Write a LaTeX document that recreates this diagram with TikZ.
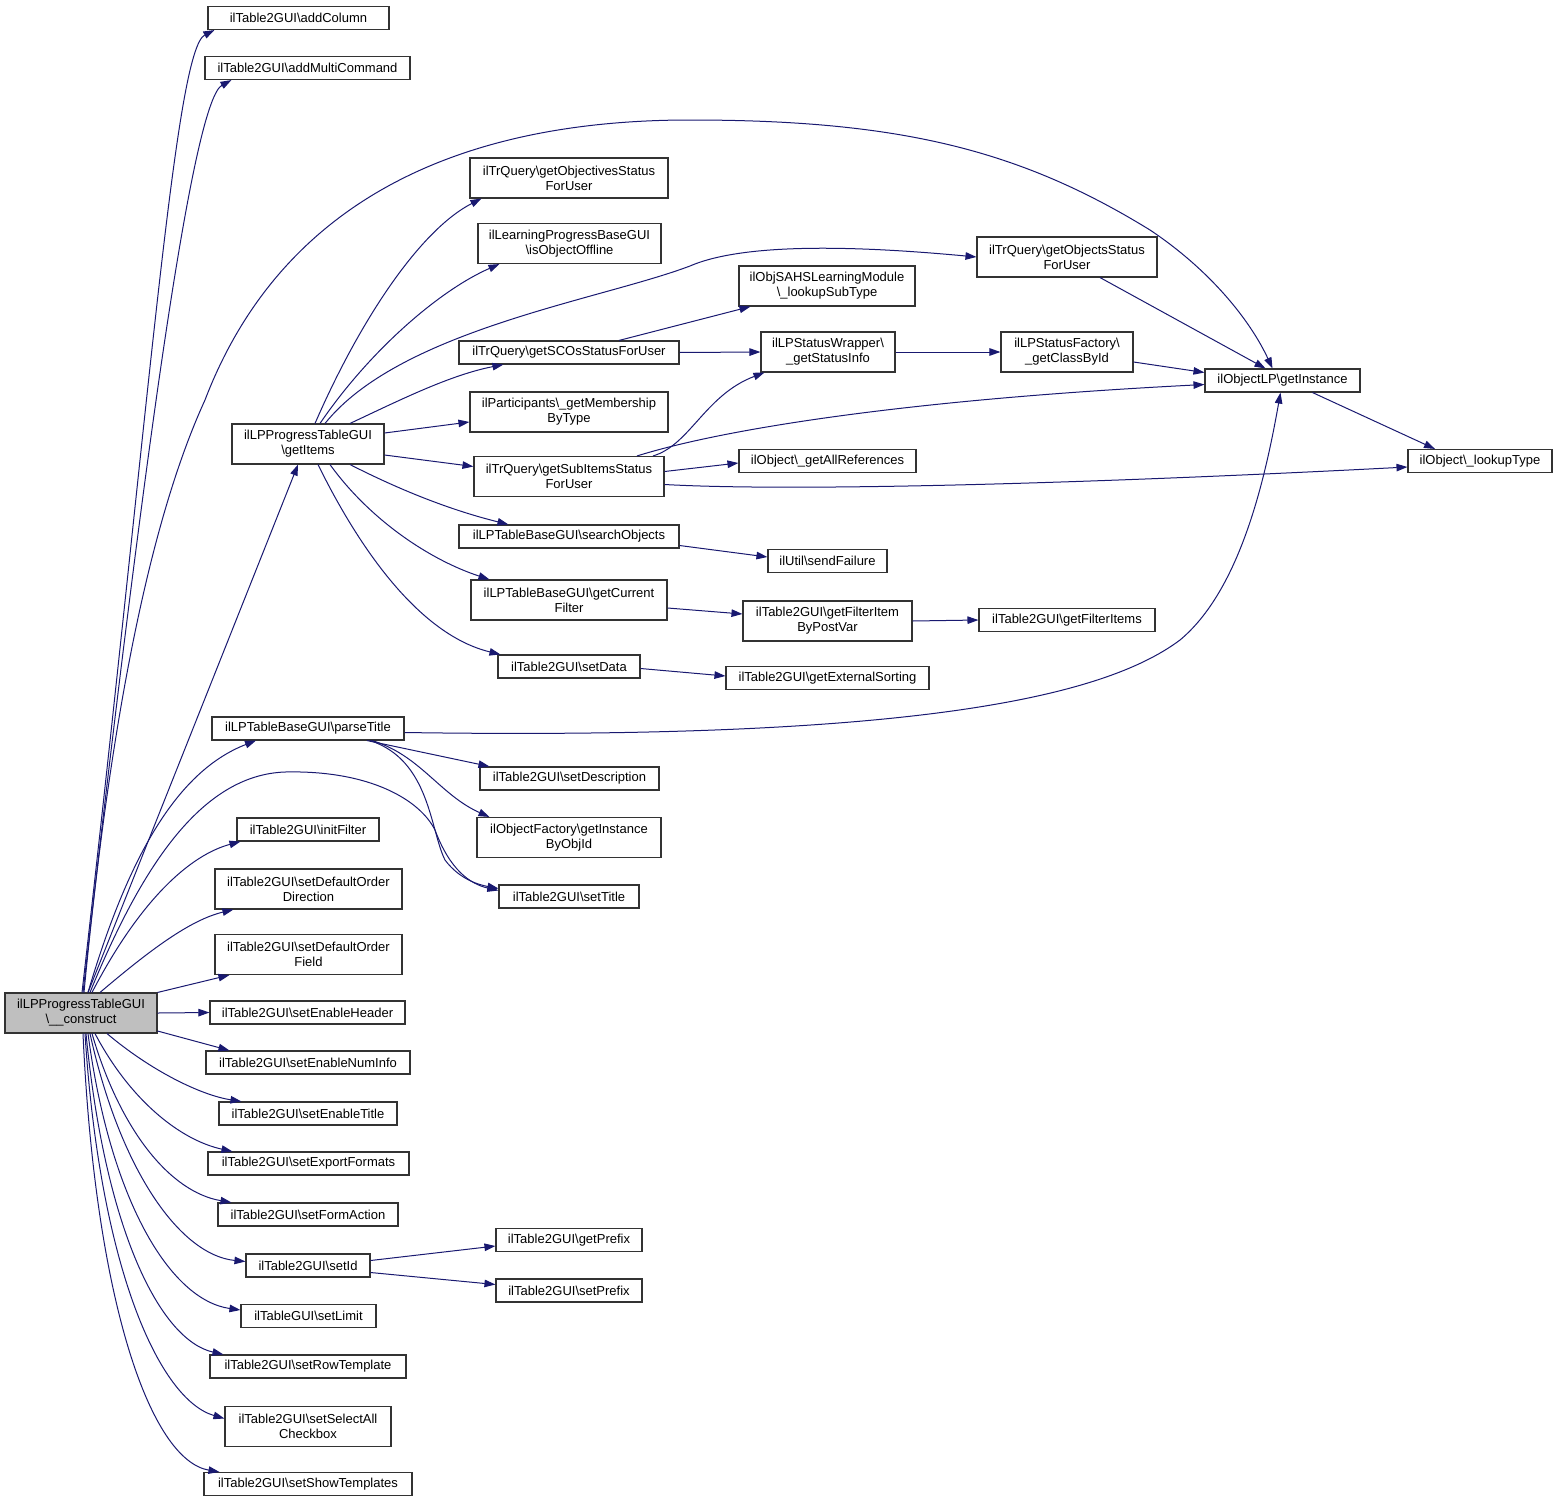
\documentclass[tikz,border=0pt]{standalone}
\usepackage{fontspec}
\setmainfont{Liberation Sans}
\usepackage{tikz}
\usetikzlibrary{arrows.meta}

\definecolor{callblue}{HTML}{191970}
\definecolor{mainfill}{HTML}{BFBFBF}
\newcommand{\bsl}{\textbackslash}

\tikzset{
  fn/.style={draw=black!80, line width=1.1pt, fill=white, align=center,
    font=\fontsize{13}{15}\selectfont, inner xsep=2pt, inner ysep=2pt,
    minimum height=23pt},
  fntwo/.style={fn, minimum height=40pt},
  call/.style={draw=callblue, line width=1pt,
    -{Triangle[length=11pt,width=7.5pt]}},
}

\begin{document}
\begin{tikzpicture}[x=1pt,y=-1pt]
        \useasboundingbox (0,0) rectangle (1557,1504);

        % the root
        \node [fntwo, fill=mainfill, minimum width=152pt] (construct) at (81,1013)
          {ilLPProgressTableGUI\\\bsl\_\_construct};

        % first column
        \node [fn, minimum width=181pt] (addColumn) at (298.5,18) {ilTable2GUI\bsl addColumn};
        \node [fn, minimum width=205pt] (addMultiCmd) at (307.5,68) {ilTable2GUI\bsl addMultiCommand};
        \node [fntwo, minimum width=152pt] (getItems) at (308,444) {ilLPProgressTableGUI\\\bsl getItems};
        \node [fn, minimum width=192pt] (parseTitle) at (308,728.5) {ilLPTableBaseGUI\bsl parseTitle};
        \node [fn, minimum width=142pt] (initFilter) at (308,829.5) {ilTable2GUI\bsl initFilter};
        \node [fntwo, minimum width=187pt] (orderDir) at (308.5,889) {ilTable2GUI\bsl setDefaultOrder\\Direction};
        \node [fntwo, minimum width=187pt] (orderField) at (308.5,954.5) {ilTable2GUI\bsl setDefaultOrder\\Field};
        \node [fn, minimum width=195pt] (enableHeader) at (307.5,1012.5) {ilTable2GUI\bsl setEnableHeader};
        \node [fn, minimum width=204pt] (enableNumInfo) at (308,1062.5) {ilTable2GUI\bsl setEnableNumInfo};
        \node [fn, minimum width=178pt] (enableTitle) at (308,1113.5) {ilTable2GUI\bsl setEnableTitle};
        \node [fn, minimum width=201pt] (exportFormats) at (308.5,1163.5) {ilTable2GUI\bsl setExportFormats};
        \node [fn, minimum width=180pt] (formAction) at (308,1214.5) {ilTable2GUI\bsl setFormAction};
        \node [fn, minimum width=124pt] (setId) at (308,1265.5) {ilTable2GUI\bsl setId};
        \node [fn, minimum width=135pt] (setLimit) at (308.5,1316) {ilTableGUI\bsl setLimit};
        \node [fn, minimum width=196pt] (rowTemplate) at (308,1366.5) {ilTable2GUI\bsl setRowTemplate};
        \node [fntwo, minimum width=166pt] (selectAll) at (308,1426.5) {ilTable2GUI\bsl setSelectAll\\Checkbox};
        \node [fn, minimum width=208pt] (showTemplates) at (308,1484) {ilTable2GUI\bsl setShowTemplates};

        % second column
        \node [fntwo, minimum width=198pt] (objectivesStatus) at (569,178) {ilTrQuery\bsl getObjectivesStatus\\ForUser};
        \node [fntwo, minimum width=183pt] (objOffline) at (569.5,243.5) {ilLearningProgressBaseGUI\\\bsl isObjectOffline};
        \node [fn, minimum width=220pt] (scosStatus) at (569,352.5) {ilTrQuery\bsl getSCOsStatusForUser};
        \node [fntwo, minimum width=198pt] (membership) at (569,412) {ilParticipants\bsl\_getMembership\\ByType};
        \node [fntwo, minimum width=190pt] (subItemsStatus) at (569,476.5) {ilTrQuery\bsl getSubItemsStatus\\ForUser};
        \node [fn, minimum width=220pt] (searchObjects) at (569,536.5) {ilLPTableBaseGUI\bsl searchObjects};
        \node [fntwo, minimum width=196pt] (currentFilter) at (569,600) {ilLPTableBaseGUI\bsl getCurrent\\Filter};
        \node [fn, minimum width=142pt] (setData) at (569,666.5) {ilTable2GUI\bsl setData};
        \node [fn, minimum width=179pt] (setDescription) at (569.5,778.5) {ilTable2GUI\bsl setDescription};
        \node [fntwo, minimum width=184pt] (instanceByObjId) at (569,837.5) {ilObjectFactory\bsl getInstance\\ByObjId};
        \node [fn, minimum width=140pt] (setTitle) at (569,896.5) {ilTable2GUI\bsl setTitle};
        \node [fn, minimum width=146pt] (getPrefix) at (569,1240) {ilTable2GUI\bsl getPrefix};
        \node [fn, minimum width=146pt] (setPrefix) at (569,1290.5) {ilTable2GUI\bsl setPrefix};

        % third column
        \node [fntwo, minimum width=176pt] (lookupSubType) at (827,286) {ilObjSAHSLearningModule\\\bsl\_lookupSubType};
        \node [fntwo, minimum width=134pt] (statusInfo) at (828,352) {ilLPStatusWrapper\bsl\\\_getStatusInfo};
        \node [fn, minimum width=177pt] (allReferences) at (827.5,461) {ilObject\bsl\_getAllReferences};
        \node [fn, minimum width=119pt] (sendFailure) at (827.5,561) {ilUtil\bsl sendFailure};
        \node [fntwo, minimum width=169pt] (filterItemByPostVar) at (827.5,621) {ilTable2GUI\bsl getFilterItem\\ByPostVar};
        \node [fn, minimum width=203pt] (externalSorting) at (827.5,678) {ilTable2GUI\bsl getExternalSorting};

        % fourth column
        \node [fntwo, minimum width=180pt] (objectsStatus) at (1067,257) {ilTrQuery\bsl getObjectsStatus\\ForUser};
        \node [fntwo, minimum width=132pt] (classById) at (1067,352) {ilLPStatusFactory\bsl\\\_getClassById};
        \node [fn, minimum width=176pt] (filterItems) at (1067,620) {ilTable2GUI\bsl getFilterItems};

        % last columns
        \node [fn, minimum width=155pt] (lpInstance) at (1282.5,380.5) {ilObjectLP\bsl getInstance};
        \node [fn, minimum width=144pt] (lookupType) at (1480,461) {ilObject\bsl\_lookupType};

        % calls of the root, upwards
        \draw [call] ([xshift=1pt]construct.north) .. controls (150,400) and (175,50)
          .. ([xshift=7pt]addColumn.south west);
        \draw [call] ([xshift=2pt]construct.north) .. controls (150,400) and (195,100)
          .. ([xshift=27pt]addMultiCmd.south west);
        \draw [call] ([xshift=3pt]construct.north) .. controls (110,720) and (150,520)
          .. (205,400) .. controls (270,230) and (420,120) .. (690,120)
          .. controls (900,120) and (1020,150) .. (1150,230)
          .. controls (1210,270) and (1250,320) .. ([xshift=-10pt]lpInstance.north);
        \draw [call] ([xshift=7pt]construct.north) -- ([xshift=-10pt]getItems.south);
        \draw [call] ([xshift=7pt]construct.north) .. controls (130,850) and (180,770)
          .. ([xshift=-52pt]parseTitle.south);
        \draw [call] ([xshift=9pt]construct.north) .. controls (140,870) and (200,775)
          .. (285,772) .. controls (370,770) and (420,800) .. (435,830)
          .. controls (450,870) and (470,884) .. ([yshift=6pt]setTitle.west);
        \draw [call] ([xshift=11pt]construct.north) .. controls (140,900) and (190,855)
          .. ([xshift=4pt]initFilter.south west);
        \draw [call] ([xshift=19pt]construct.north) .. controls (150,950) and (190,920)
          .. ([xshift=19pt]orderDir.south west);
        \draw [call] (construct.north east) -- ([xshift=15pt]orderField.south west);

        % calls of the root, sideways and downwards
        \draw [call] (construct.east) -- (enableHeader.west);
        \draw [call] ([yshift=-18pt]construct.east) -- ([xshift=24pt]enableNumInfo.north west);
        \draw [call] ([xshift=26pt]construct.south) .. controls (150,1070) and (200,1095)
          .. ([xshift=23pt]enableTitle.north west);
        \draw [call] ([xshift=14pt]construct.south) .. controls (130,1100) and (180,1140)
          .. ([xshift=25pt]exportFormats.north west);
        \draw [call] ([xshift=11pt]construct.south) .. controls (120,1130) and (170,1192)
          .. ([xshift=14pt]formAction.north west);
        \draw [call] ([xshift=9pt]construct.south) .. controls (120,1170) and (180,1255)
          .. ([yshift=4pt]setId.west);
        \draw [call] ([xshift=7pt]construct.south) .. controls (110,1200) and (170,1300)
          .. ([yshift=6pt]setLimit.west);
        \draw [call] ([xshift=5pt]construct.south) .. controls (105,1230) and (160,1340)
          .. ([xshift=14pt]rowTemplate.north west);
        \draw [call] ([xshift=4pt]construct.south) .. controls (100,1270) and (160,1400)
          .. ([yshift=8pt]selectAll.west);
        \draw [call] ([xshift=2pt]construct.south) .. controls (95,1300) and (150,1460)
          .. ([xshift=16pt]showTemplates.north west);

        % calls of getItems
        \draw [call] ([xshift=7pt]getItems.north) .. controls (360,320) and (420,230)
          .. ([xshift=12pt]objectivesStatus.south west);
        \draw [call] ([xshift=12pt]getItems.north) .. controls (370,350) and (440,290)
          .. ([xshift=22pt]objOffline.south west);
        \draw [call] ([xshift=17pt]getItems.north) .. controls (400,330) and (600,300)
          .. (690,266) .. controls (750,240) and (880,248) .. (objectsStatus.west);
        \draw [call] ([xshift=42pt]getItems.north) .. controls (400,400) and (450,375)
          .. ([xshift=45pt]scosStatus.south west);
        \draw [call] ([yshift=11pt]getItems.east) -- ([yshift=-10pt]membership.west);
        \draw [call] ([yshift=-11pt]getItems.east) -- ([yshift=10pt]subItemsStatus.west);
        \draw [call] ([xshift=42pt]getItems.south) .. controls (400,490) and (450,510)
          .. ([xshift=50pt]searchObjects.north west);
        \draw [call] ([xshift=22pt]getItems.south) .. controls (370,520) and (430,560)
          .. ([xshift=19pt]currentFilter.north west);
        \draw [call] ([xshift=10pt]getItems.south) .. controls (360,550) and (420,635)
          .. ([xshift=3pt]setData.north west);

        % deeper calls
        \draw [call] ([xshift=50pt]scosStatus.north) -- ([xshift=12pt]lookupSubType.south west);
        \draw [call] (scosStatus.east) -- (statusInfo.west);
        \draw [call] ([xshift=84pt]subItemsStatus.north) .. controls (690,445) and (705,395)
          .. ([xshift=4pt]statusInfo.south west);
        \draw [call] ([xshift=68pt]subItemsStatus.north) .. controls (720,430) and (900,400)
          .. ([yshift=-4pt]lpInstance.west);
        \draw [call] ([yshift=5pt]subItemsStatus.east) -- ([yshift=-2pt]allReferences.west);
        \draw [call] ([yshift=-8pt]subItemsStatus.east) .. controls (800,492) and (1100,483)
          .. ([yshift=-6pt]lookupType.west);
        \draw [call] ([xshift=33pt]objectsStatus.south) -- ([xshift=-17pt]lpInstance.north);
        \draw [call] (statusInfo.east) -- (classById.west);
        \draw [call] ([yshift=-10pt]classById.east) -- ([yshift=8pt]lpInstance.west);
        \draw [call] ([xshift=30pt]lpInstance.south) -- ([xshift=-45pt]lookupType.north);
        \draw [call] ([yshift=-9pt]searchObjects.east) -- ([yshift=4pt]sendFailure.west);
        \draw [call] ([yshift=-8pt]currentFilter.east) -- ([yshift=7pt]filterItemByPostVar.west);
        \draw [call] (filterItemByPostVar.east) -- (filterItems.west);
        \draw [call] ([yshift=-2pt]setData.east) -- ([yshift=2pt]externalSorting.west);

        % calls of parseTitle
        \draw [call] ([yshift=-4pt]parseTitle.east) .. controls (900,740) and (1100,700)
          .. (1180,640) .. controls (1240,590) and (1265,480) .. ([xshift=-2pt]lpInstance.south);
        \draw [call] ([xshift=59pt]parseTitle.south) -- ([xshift=10pt]setDescription.north west);
        \draw [call] ([xshift=64pt]parseTitle.south) .. controls (420,755) and (440,795)
          .. ([xshift=13pt]instanceByObjId.north west);
        \draw [call] ([xshift=62pt]parseTitle.south) .. controls (430,760) and (430,830)
          .. (445,860) .. controls (460,880) and (480,885) .. ([yshift=8pt]setTitle.west);

        % calls of setId
        \draw [call] ([yshift=5pt]setId.east) -- ([yshift=-6pt]getPrefix.west);
        \draw [call] ([yshift=-7pt]setId.east) -- ([yshift=6pt]setPrefix.west);

      \end{tikzpicture}
\end{document}
